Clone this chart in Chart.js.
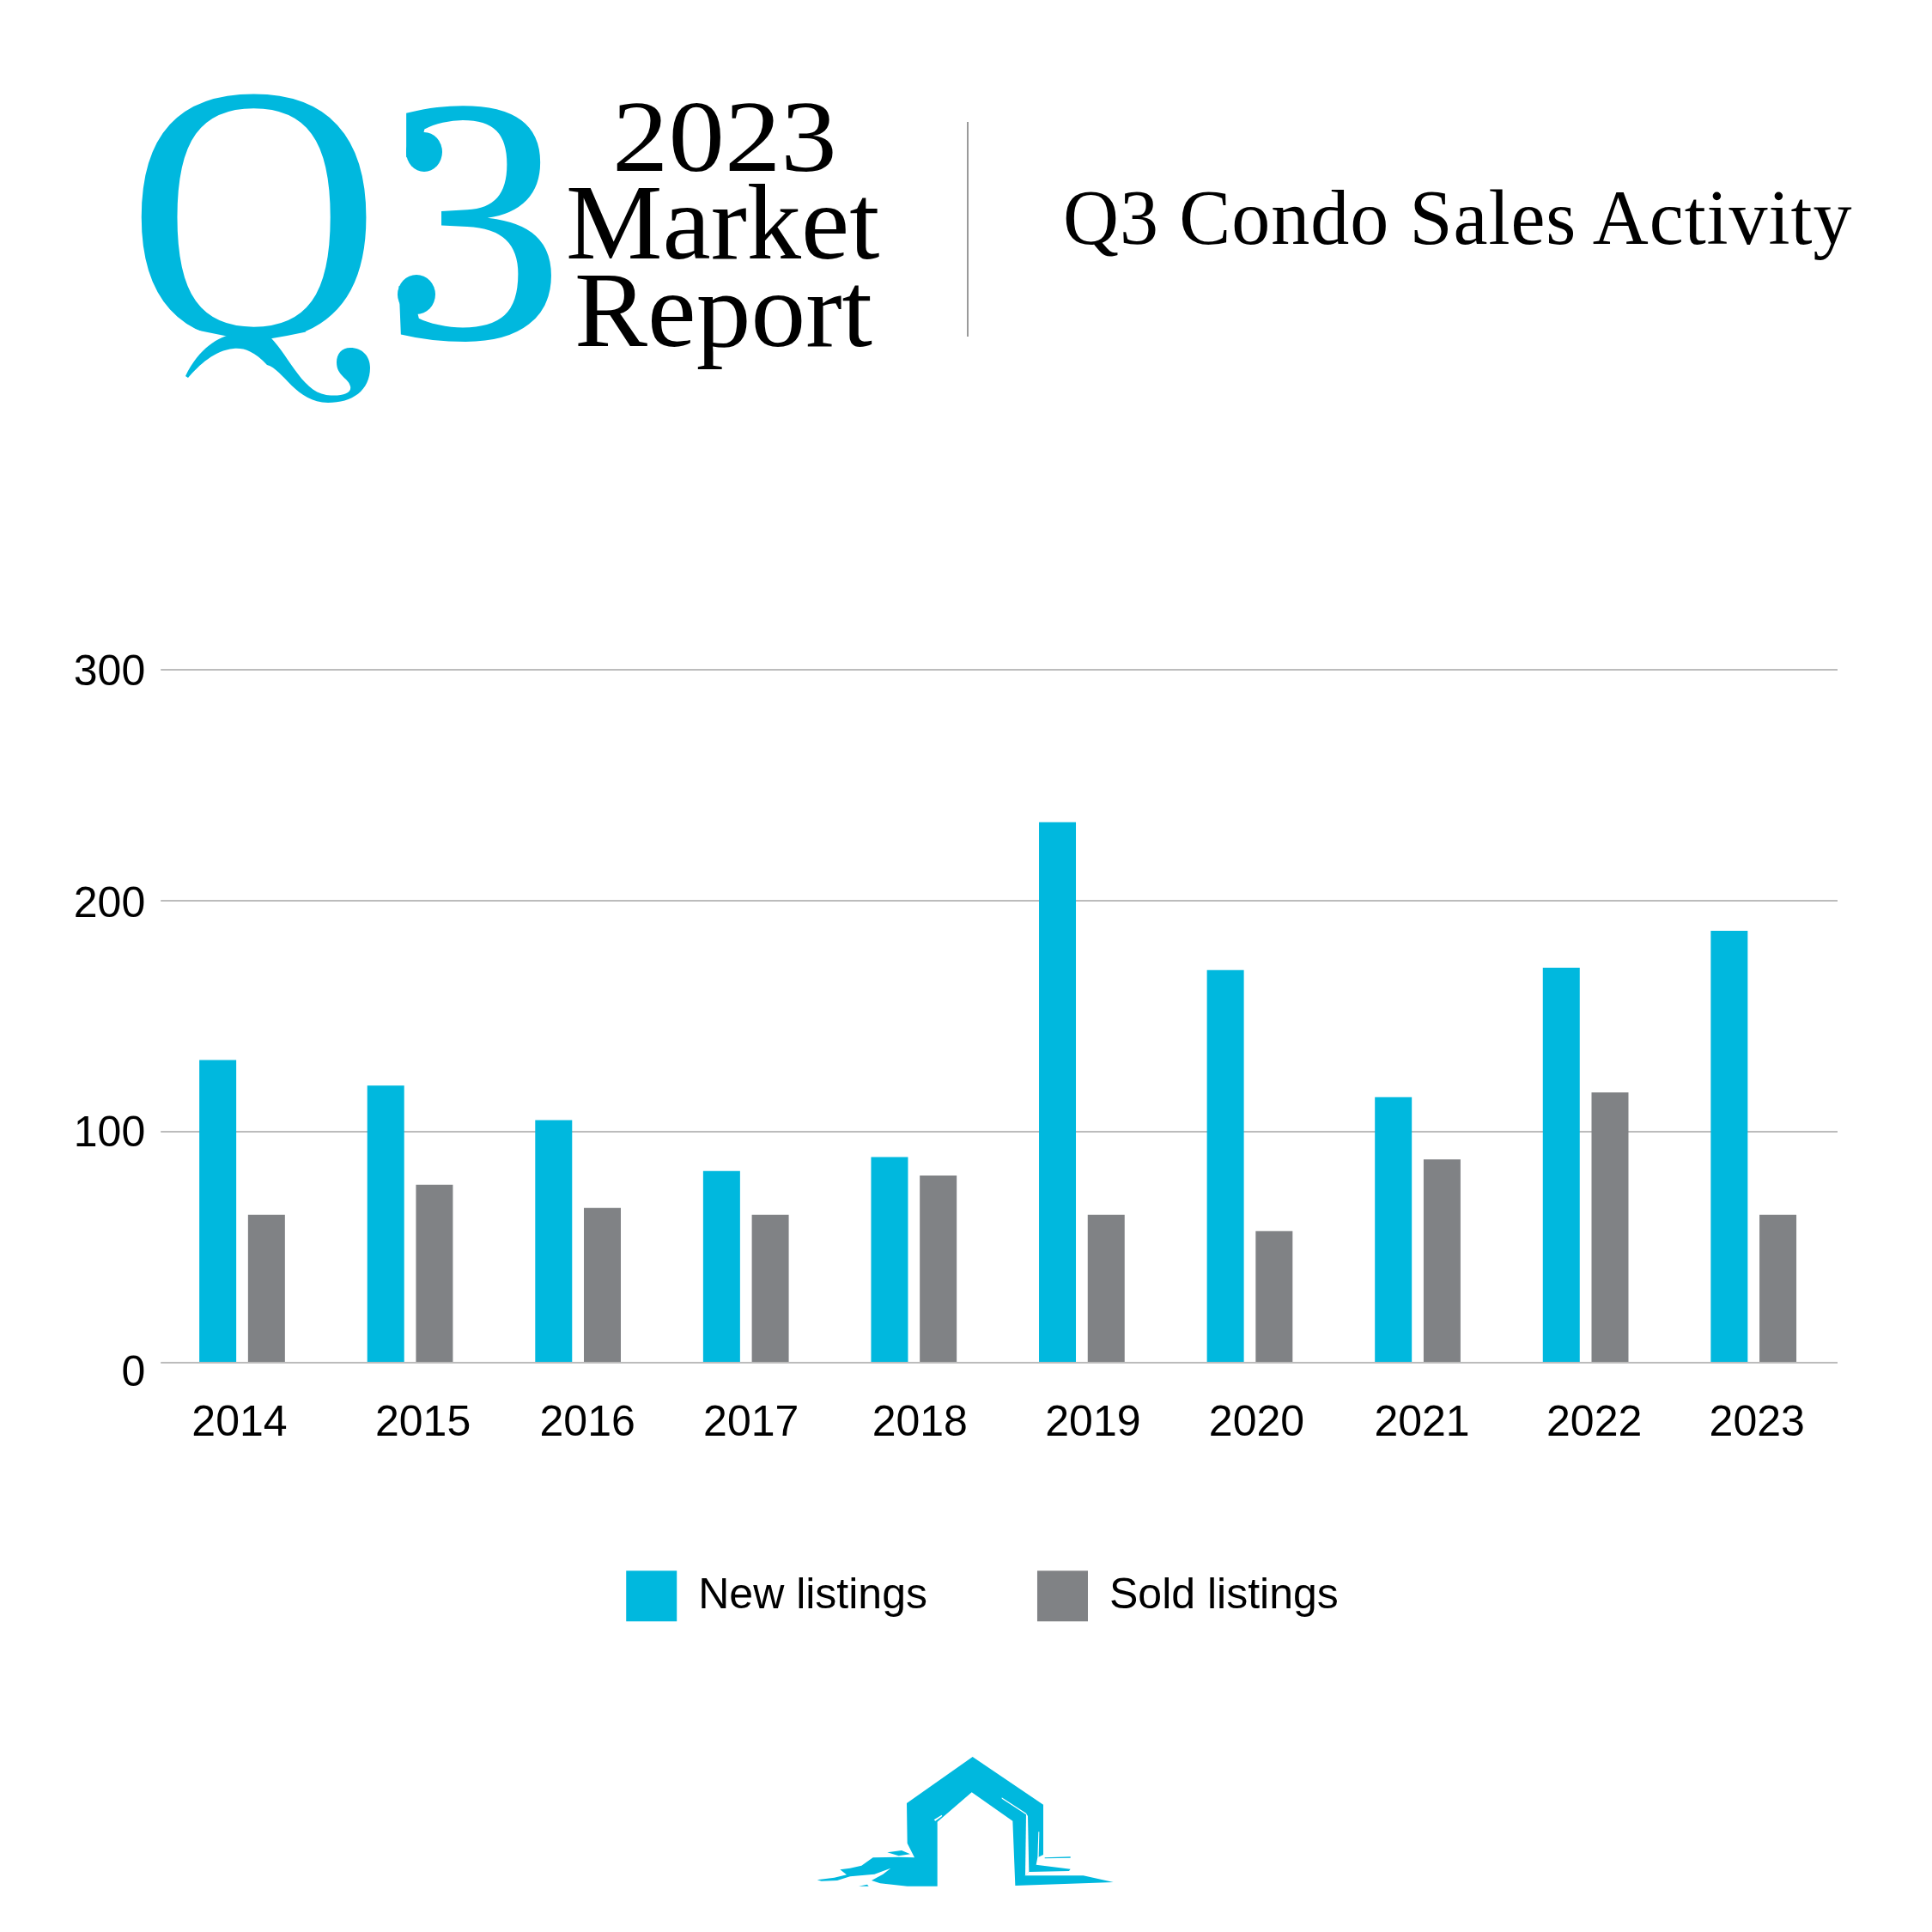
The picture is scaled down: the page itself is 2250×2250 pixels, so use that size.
<!DOCTYPE html>
<html><head><meta charset="utf-8">
<script src="https://cdn.jsdelivr.net/npm/chart.js@4"></script>
<style>
html,body{margin:0;padding:0;background:#fff;width:2250px;height:2250px;overflow:hidden}
#wrap{position:relative;width:2250px;height:2250px}
canvas{position:absolute;left:0;top:0}
.t{position:absolute;font-family:"Liberation Serif",serif;line-height:1;white-space:nowrap;color:#000;transform-origin:left top}
svg{position:absolute}
#rule{position:absolute;left:1126px;top:142px;width:2px;height:250px;background:#9a9a9a}
</style></head><body><div id="wrap">
<canvas id="c" width="2250" height="2250"></canvas>
<div class="t" id="q3" style="left:0;top:0;color:#00b8de"><span class="t" style="left:148px;top:34.5px;font-size:428px;transform:scaleX(.955);color:#00b8de;clip-path:polygon(0 0,100% 0,100% 337.5px,254px 341.5px,226px 350.5px,195px 356.5px,171px 360.5px,143px 360.5px,119px 356.5px,88px 350.5px,60px 341.5px,0 337.5px)">Q</span><span class="t" style="left:443.5px;top:51.5px;font-size:409px;transform:scaleX(1.05);color:#00b8de">3</span></div>
<svg style="left:0;top:0" width="700" height="500" viewBox="0 0 700 500">
<path fill="#00b8de" d="M216,438 C232,405 255,392 272,389 L311,389 C335,410 350,455 380,460 C398,462 410,458 408,450 C406,440 392,438 392,422 C392,412 398,405 408,405 C422,405 431,415 431,428 C431,455 410,469 382,469 C345,469 330,430 311,425 C295,408 283,405 272,406 C250,408 232,425 219,440 Z"/>
<ellipse fill="#00b8de" cx="494" cy="177" rx="21" ry="23"/>
<ellipse fill="#00b8de" cx="485" cy="343" rx="22" ry="23"/>
</svg>
<div class="t" style="left:713px;top:100px;font-size:119px;transform:scaleX(1.10)">2023</div>
<div class="t" style="left:659px;top:197px;font-size:125px;transform:scaleX(1.012)">Market</div>
<div class="t" style="left:669px;top:299px;font-size:125px;transform:scaleX(1.02)">Report</div>
<div id="rule"></div>
<div class="t" style="left:1238px;top:209px;font-size:90px;letter-spacing:.95px">Q3 Condo Sales Activity</div>
<svg style="left:900px;top:2000px" width="450" height="250" viewBox="0 0 1350 750">
<polygon fill="#00b8de" points="698,138 945,305 945,480 925,490 920,515 1040,530 1035,537 895,540 880,553 1085,553 1190,576 847,588 838,362 695,262 575,365 575,590 470,590 375,580 345,570 385,548 412,527 355,548 270,556 225,570 170,572 155,568 215,560 258,550 235,532 270,527 310,518 350,490 440,488 495,490 470,440 468,300"/>
<polygon fill="#00b8de" points="400,472 450,465 480,478 440,484"/>
<polygon fill="#00b8de" points="300,590 330,584 335,590"/>
<polygon fill="#fff" points="885,335 891,345 895,540 882,552"/>
<polygon fill="#fff" points="800,280 885,335 885,340 800,284"/>
<polygon fill="#fff" points="563,358 590,341 592,345 568,362"/>
<polygon fill="#fff" points="928,400 931,400 929,490 925,490"/>
<polygon fill="#00b8de" points="950,490 1040,487 1040,491 950,493"/>
</svg>
</div>
<script>
const categories=["2014","2015","2016","2017","2018","2019","2020","2021","2022","2023"];
const newListings=[131,120,105,83,89,234,170,115,171,187];
const soldListings=[64,77,67,64,81,64,57,88,117,64];
const seriesNames=["New listings","Sold listings"];
const yTicks=[0,100,200,300];
const BLUE="#00b8de",GRAY="#808285";
const xLabelNudge=[-3,15,11,6,7,13,8,5,10,4];
const yLabelNudge=[13,3,5,4];
const tickNudge={id:"tickNudge",
  afterLayout(ch){const l=ch.legend;l.left+=74;l.right+=74;l.top=1829.3-128;l.bottom=l.top+400;},
  beforeDraw(ch){
    [[ch.scales.x,xLabelNudge,0],[ch.scales.y,yLabelNudge,1]].forEach(([s,n,a])=>{
      s.getLabelItems().forEach((it,i)=>{
        if(it._n)return;it._n=1;
        const t=it.options.translation.slice();t[a]+=n[i]||0;it.options.translation=t;});
    });
  },
  beforeDatasetsDraw(ch){const c=ch.ctx,a=ch.chartArea;c.save();c.fillStyle="#fff";c.fillRect(a.left-1,a.top-3,4,a.bottom-a.top+6);c.restore();}
};
new Chart(document.getElementById("c"),{
  type:"bar",
  data:{labels:categories,datasets:[
    {label:seriesNames[0],data:newListings,backgroundColor:BLUE,borderWidth:0,categoryPercentage:.58,barPercentage:.758},
    {label:seriesNames[1],data:soldListings,backgroundColor:GRAY,borderWidth:0,categoryPercentage:.58,barPercentage:.758}]},
  options:{responsive:false,animation:false,devicePixelRatio:1,
    layout:{padding:{top:780,right:110,bottom:562,left:0}},
    plugins:{title:{display:false},tooltip:{enabled:false},
      legend:{position:"bottom",maxHeight:1,labels:{boxWidth:59,boxHeight:59,padding:128,color:"#000",font:{family:"Liberation Sans",size:50}}}},
    scales:{
      x:{grid:{display:false,drawTicks:false},border:{display:false},
         afterFit(s){s.height=100;},
         ticks:{padding:41,color:"#000",maxRotation:0,autoSkip:false,font:{family:"Liberation Sans",size:50}}},
      y:{min:0,max:300,afterFit(s){s.width=184.2;},
         afterBuildTicks(s){s.ticks=yTicks.map(v=>({value:v}));},
         grid:{color:"#bcbcbc",lineWidth:2,drawTicks:false},border:{display:false},
         ticks:{padding:15,color:"#000",font:{family:"Liberation Sans",size:50}}}
    }},
  plugins:[tickNudge]
});
</script></body></html>
